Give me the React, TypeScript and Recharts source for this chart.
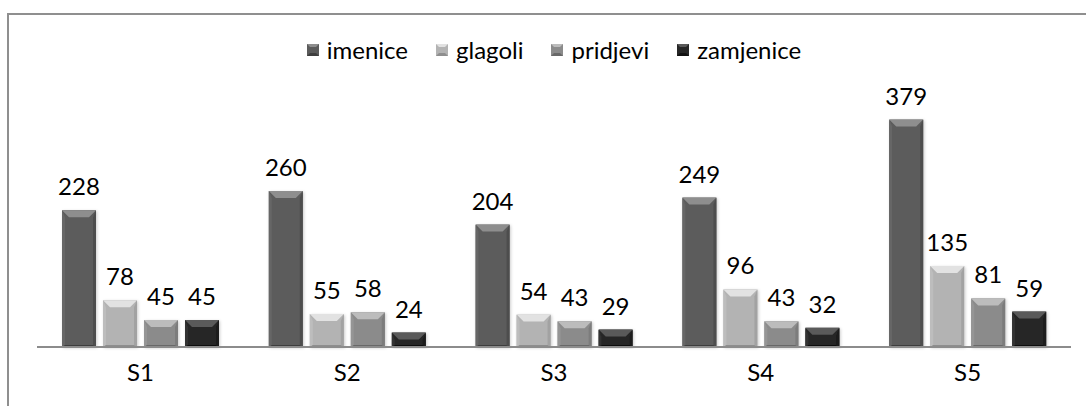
import React from 'react';
import { BarChart, Bar, XAxis, YAxis, LabelList } from 'recharts';

const categories = ['S1', 'S2', 'S3', 'S4', 'S5'];
const imenice = [228, 260, 204, 249, 379];
const glagoli = [78, 55, 54, 96, 135];
const pridjevi = [45, 58, 43, 43, 81];
const zamjenice = [45, 24, 29, 32, 59];

const series = [
    { key: 'imenice', base: '#5b5b5b', top: '#8e8e8e', left: '#666666', right: '#4e4e4e', bottom: '#3e3e3e' },
    { key: 'glagoli', base: '#b3b3b3', top: '#e2e2e2', left: '#bdbdbd', right: '#a2a2a2', bottom: '#8e8e8e' },
    { key: 'pridjevi', base: '#8b8b8b', top: '#bcbcbc', left: '#959595', right: '#7c7c7c', bottom: '#686868' },
    { key: 'zamjenice', base: '#262626', top: '#5a5a5a', left: '#303030', right: '#1c1c1c', bottom: '#111111' },
];

const data = categories.map((c, i) => ({
    name: c,
    imenice: imenice[i],
    glagoli: glagoli[i],
    pridjevi: pridjevi[i],
    zamjenice: zamjenice[i],
}));

const FONT = 'Lato, "Open Sans", sans-serif';

// bevelled bar like the old office charts
const makeBevel = (s: typeof series[number]) => (props: any) => {
    const { x, y, width: w, height: h } = props;
    if (!h || h <= 0) return <g />;
    const b = Math.min(7, h / 2, w / 2);
    const sb = 3;
    return (
        <g filter="url(#barShadow)">
            <rect x={x} y={y} width={w} height={h} fill={s.base} />
            <polygon points={`${x},${y} ${x + sb},${y + b} ${x + sb},${y + h - 2} ${x},${y + h}`} fill={s.left} />
            <polygon points={`${x + w},${y} ${x + w - sb},${y + b} ${x + w - sb},${y + h - 2} ${x + w},${y + h}`} fill={s.right} />
            <polygon points={`${x},${y + h} ${x + sb},${y + h - 2} ${x + w - sb},${y + h - 2} ${x + w},${y + h}`} fill={s.bottom} />
            <polygon points={`${x},${y} ${x + w},${y} ${x + w - b},${y + b} ${x + b},${y + b}`} fill={s.top} />
        </g>
    );
};

const LegendBox = () => (
    <div style={{ position: 'absolute', left: 37, top: 35, width: 1034, display: 'flex', justifyContent: 'center', gap: 28, fontFamily: FONT, fontSize: 24, color: '#000' }}>
        {series.map(s => (
            <div key={s.key} style={{ display: 'flex', alignItems: 'center', gap: 8 }}>
                <svg width={12} height={12}>
                    <rect x={0} y={0} width={12} height={12} fill={s.base} />
                    <polygon points="0,0 12,0 9,3 3,3" fill={s.top} />
                    <polygon points="0,12 3,9 9,9 12,12" fill={s.bottom} />
                </svg>
                <span>{s.key}</span>
            </div>
        ))}
    </div>
);

export default function App() {
    return (
        <div style={{ position: 'absolute', left: 0, top: 0, width: 1086, height: 406, overflow: 'hidden', background: '#fff' }}>
            <div style={{ position: 'absolute', left: 7, top: 13, width: 1200, height: 500, borderLeft: '2px solid #8f8f8f', borderTop: '2px solid #8f8f8f' }} />
            <LegendBox />
            <BarChart
                width={1086}
                height={406}
                data={data}
                margin={{ top: 107, right: 15, left: 37, bottom: 0 }}
                barSize={34}
                barGap={7}
                style={{ position: 'absolute', left: 0, top: 0 }}
            >
                <defs>
                    <filter id="barShadow" x="-20%" y="-10%" width="140%" height="120%">
                        <feDropShadow dx="1" dy="1" stdDeviation="1.5" floodColor="#000" floodOpacity="0.2" />
                    </filter>
                </defs>
                <XAxis
                    dataKey="name"
                    height={59}
                    axisLine={{ stroke: '#8c8c8c', strokeWidth: 2 }}
                    tickLine={false}
                    tickSize={0}
                    tickMargin={17}
                    tick={{ fill: '#000', fontSize: 24, fontFamily: FONT }}
                />
                <YAxis hide domain={[0, 400]} />
                {series.map(s => (
                    <Bar key={s.key} dataKey={s.key} shape={makeBevel(s)} isAnimationActive={false}>
                        <LabelList dataKey={s.key} position="top" offset={15} fill="#000" fontSize={24} fontFamily={FONT} />
                    </Bar>
                ))}
            </BarChart>
        </div>
    );
}
